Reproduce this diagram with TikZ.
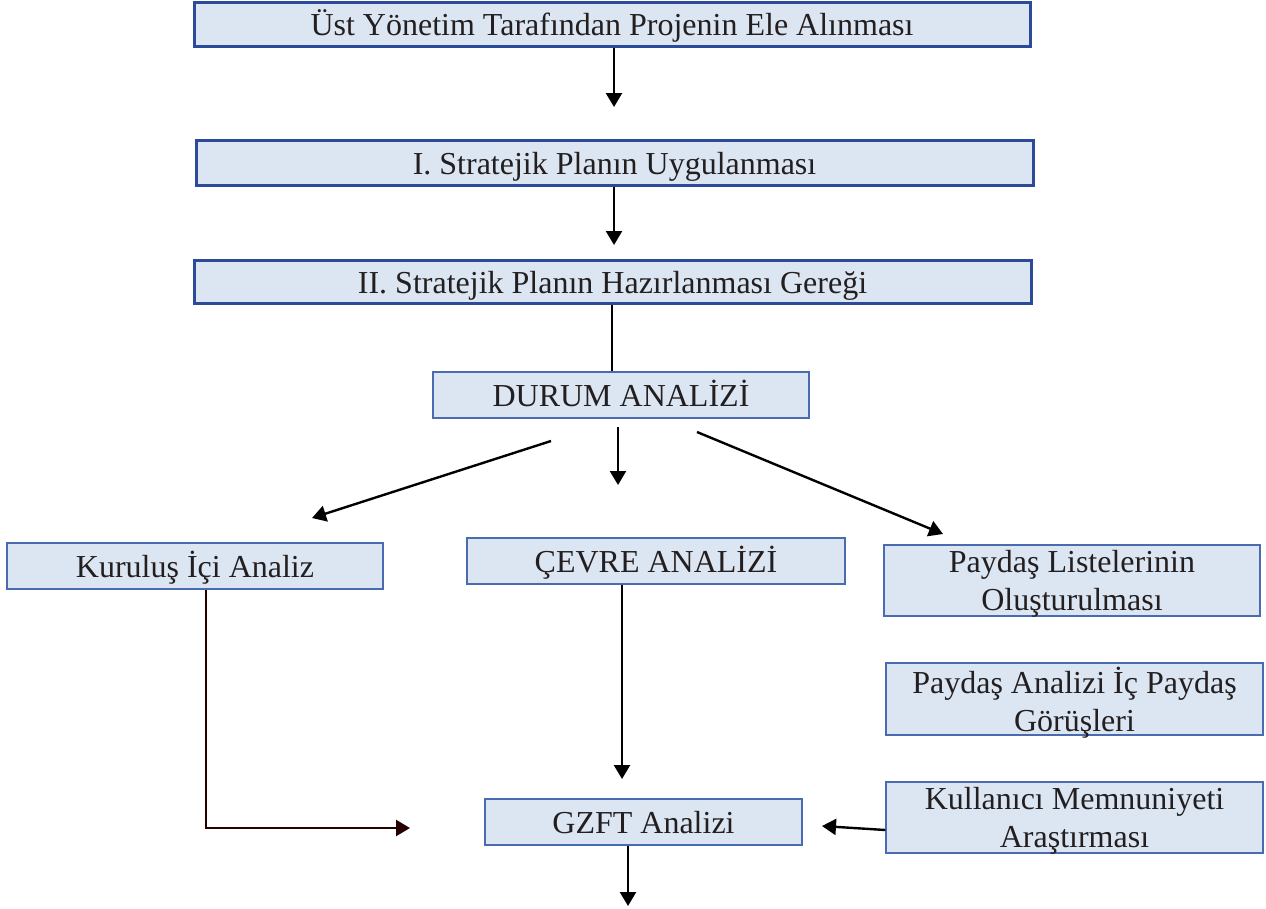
\documentclass[tikz,border=0pt]{standalone}
\usepackage{fontspec}
\setmainfont{Liberation Serif}
\usetikzlibrary{arrows.meta}
\definecolor{boxfill}{HTML}{DCE6F2}
\definecolor{darkedge}{HTML}{2B4A9A}
\definecolor{lightedge}{HTML}{4A6BB0}
\definecolor{txt}{HTML}{231F20}
\tikzset{
  base/.style={draw, fill=boxfill, text=txt, inner sep=0pt, align=center,
    font=\fontsize{32}{38}\selectfont, text depth=0pt},
  one/.style={text height=23pt},
  thickbox/.style={base, one, draw=darkedge, line width=3pt},
  thinbox/.style={base, draw=lightedge, line width=1.4pt},
  arr/.style={line width=2.4pt, -{Triangle[length=14pt,width=16pt]}},
  plain/.style={line width=2.4pt}
}
\begin{document}
\begin{tikzpicture}[x=1pt,y=-1pt]
\useasboundingbox (0,0) rectangle (1266,908);
% boxes
\node[thickbox, minimum width=836pt, minimum height=44pt] (top) at (612,24) {Üst Yönetim Tarafından Projenin Ele Alınması};
\node[thickbox, minimum width=837pt, minimum height=45pt] (one) at (614.5,162.5) {I. Stratejik Planın Uygulanması};
\node[thickbox, minimum width=837pt, minimum height=43pt] (two) at (612.5,281.5) {II. Stratejik Planın Hazırlanması Gereği};
\node[thinbox, one, minimum width=376pt, minimum height=46pt] (durum) at (621,395) {DURUM ANALİZİ};
\node[thinbox, one, minimum width=376pt, minimum height=46pt] (kur) at (195,566) {Kuruluş İçi Analiz};
\node[thinbox, one, minimum width=378pt, minimum height=46pt] (cevre) at (656,561) {ÇEVRE ANALİZİ};
\node[thinbox, minimum width=376pt, minimum height=71pt] (pl) at (1072,580.5) {Paydaş Listelerinin\\Oluşturulması};
\node[thinbox, minimum width=377pt, minimum height=72pt] (pa) at (1074.5,699) {Paydaş Analizi İç Paydaş\\Görüşleri};
\node[thinbox, minimum width=377pt, minimum height=71pt] (km) at (1074.5,817.5) {Kullanıcı Memnuniyeti\\Araştırması};
\node[thinbox, one, minimum width=317pt, minimum height=46pt] (gzft) at (643.5,822) {GZFT Analizi};
% free ends
\coordinate (a1) at (614,107);
\coordinate (a2s) at (614,185);
\coordinate (a2) at (614,245);
\coordinate (a3s) at (612,303);
\coordinate (a3) at (612,372);
\coordinate (dls) at (551,441);
\coordinate (dle) at (312,518);
\coordinate (dms) at (618,427);
\coordinate (dme) at (618,485);
\coordinate (drs) at (697,432);
\coordinate (dre) at (943,534);
\coordinate (k1s) at (206,589);
\coordinate (k1) at (206,828);
\coordinate (k2) at (410,828);
\coordinate (cs) at (622,584);
\coordinate (ce) at (622,779);
\coordinate (ms) at (884,830);
\coordinate (me) at (822,826);
\coordinate (gs) at (628,845);
\coordinate (ge) at (628,906);
% connectors
\draw[arr] (top.south -| a1) -- (a1);
\draw[arr] (one.south -| a2s) -- (a2);
\draw[plain] (two.south -| a3s) -- (durum.north -| a3);
\draw[arr] (dls) -- (dle);
\draw[arr] (dms) -- (dme);
\draw[arr] (drs) -- (dre);
\draw[line width=2.4pt, draw=black!85!red, -{Triangle[length=14pt,width=16pt]}] (kur.south -| k1s) -- (k1) -- (k2);
\draw[arr] (cevre.south -| cs) -- (ce);
\draw[arr] (km.west |- ms) -- (me);
\draw[arr] (gzft.south -| gs) -- (ge);
\end{tikzpicture}
\end{document}
